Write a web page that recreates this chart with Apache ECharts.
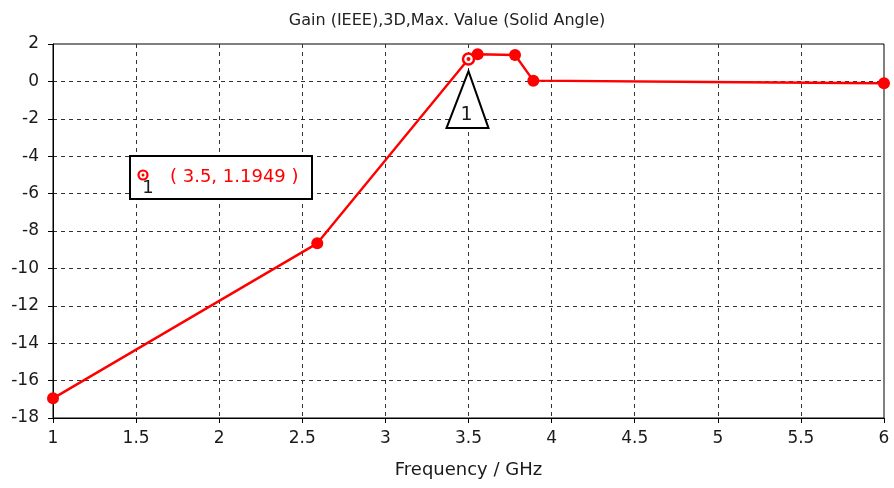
<!DOCTYPE html>
<html>
<head>
<meta charset="utf-8">
<script src="https://cdn.jsdelivr.net/npm/echarts@6/dist/echarts.min.js"></script>
<style>
  html, body { margin: 0; padding: 0; background: #fff; }
  #chart { width: 894px; height: 488px; }
</style>
</head>
<body>
<div id="chart"></div>
<script>
// Gain samples vs frequency
const freq = [1, 2.59, 3.5, 3.555, 3.78, 3.89, 4.94, 4.94, 6];
const gain = [-16.95, -8.66, 1.1949, 1.45, 1.41, 0.04, -0.03, -0.1, -0.1];
// indices of samples that carry a dot symbol
const symbolIdx = [0, 1, 3, 4, 5, 8];
// marker 1
const markerFreq = 3.5;
const markerGain = 1.1949;
const markerName = '1';

const xTicks = { min: 1, max: 6, step: 0.5 };
const yTicks = { min: -18, max: 2, step: 2 };

const FONT = 'DejaVu Sans';
const RED = '#ff0000';
const INK = '#1a1a1a';

const chart = echarts.init(document.getElementById('chart'), null, { renderer: 'canvas' });

const lineData = freq.map((f, i) => [f, gain[i]]);
const dotData = symbolIdx.map(i => [freq[i], gain[i]]);

const gridDash = { type: [4, 4], color: '#333', width: 1 };

chart.setOption({
  animation: false,
  backgroundColor: '#fff',
  title: {
    text: 'Gain (IEEE),3D,Max. Value (Solid Angle)',
    left: 'center', top: 8,
    textStyle: { fontFamily: FONT, fontSize: 16, fontWeight: 'normal', color: '#222' }
  },
  grid: {
    left: 53, right: 10, top: 44, bottom: 70,
    show: true, borderColor: '#000', borderWidth: 1, backgroundColor: 'transparent'
  },
  xAxis: {
    type: 'value', min: xTicks.min, max: xTicks.max, interval: xTicks.step,
    name: 'Frequency / GHz', nameLocation: 'middle', nameGap: 43,
    nameTextStyle: { fontFamily: FONT, fontSize: 18, color: INK },
    axisLine: { show: true, onZero: false, lineStyle: { color: '#000', width: 1 } },
    axisTick: { show: true, inside: false, length: 5, lineStyle: { color: '#000' } },
    axisLabel: { fontFamily: FONT, fontSize: 17, color: INK, margin: 12 },
    splitLine: { show: true, showMinLine: false, showMaxLine: false, lineStyle: gridDash }
  },
  yAxis: {
    type: 'value', min: yTicks.min, max: yTicks.max, interval: yTicks.step,
    axisLine: { show: true, onZero: false, lineStyle: { color: '#000', width: 1 } },
    axisTick: { show: true, inside: false, length: 5, lineStyle: { color: '#000' } },
    axisLabel: { fontFamily: FONT, fontSize: 17, color: INK, margin: 14 },
    splitLine: { show: true, showMinLine: false, showMaxLine: false, lineStyle: gridDash }
  },
  series: [
    {
      type: 'line', data: lineData, showSymbol: false, symbol: 'none',
      lineStyle: { color: RED, width: 2.4 }, z: 3
    },
    {
      type: 'scatter', data: dotData, symbol: 'circle', symbolSize: 12,
      itemStyle: { color: RED, opacity: 1 }, z: 4
    },
    {
      // marker ring
      type: 'scatter', data: [[markerFreq, markerGain]], symbol: 'circle', symbolSize: 11,
      itemStyle: { color: '#fff', borderColor: RED, borderWidth: 2.5, opacity: 1 }, z: 5
    },
    {
      type: 'scatter', data: [[markerFreq, markerGain]], symbol: 'circle', symbolSize: 4,
      itemStyle: { color: RED, opacity: 1 }, z: 6
    }
  ]
});

// marker annotation: triangle tag below the point, and the readout box
function drawAnnotations() {
  const p = chart.convertToPixel({ gridIndex: 0 }, [markerFreq, markerGain]);
  const tx = p[0], ty = p[1];
  const boxX = 130, boxY = 156, boxW = 182, boxH = 43;
  chart.setOption({
    graphic: [
      {
        type: 'polygon', z: 10,
        shape: { points: [[tx, ty + 12], [tx - 22, ty + 69], [tx + 20, ty + 69]] },
        style: { fill: '#fff', stroke: '#000', lineWidth: 2 }
      },
      {
        type: 'text', z: 11, x: tx - 2, y: ty + 56,
        style: { text: markerName, fontFamily: FONT, fontSize: 19, fill: INK, align: 'center', verticalAlign: 'middle' }
      },
      {
        type: 'rect', z: 10,
        shape: { x: boxX, y: boxY, width: boxW, height: boxH },
        style: { fill: '#fff', stroke: '#000', lineWidth: 2 }
      },
      {
        type: 'circle', z: 11, shape: { cx: boxX + 13, cy: boxY + 19, r: 4.5 },
        style: { fill: '#fff', stroke: RED, lineWidth: 2.2 }
      },
      {
        type: 'circle', z: 12, shape: { cx: boxX + 13, cy: boxY + 19, r: 1.5 },
        style: { fill: RED }
      },
      {
        type: 'text', z: 11, x: boxX + 18, y: boxY + 32,
        style: { text: markerName, fontFamily: FONT, fontSize: 18, fill: INK, align: 'center', verticalAlign: 'middle' }
      },
      {
        type: 'text', z: 11, x: boxX + 40, y: boxY + 21,
        style: {
          text: '( ' + markerFreq + ', ' + markerGain + ' )',
          fontFamily: FONT, fontSize: 18, fill: RED, align: 'left', verticalAlign: 'middle'
        }
      }
    ]
  });
}
drawAnnotations();
</script>
</body>
</html>
